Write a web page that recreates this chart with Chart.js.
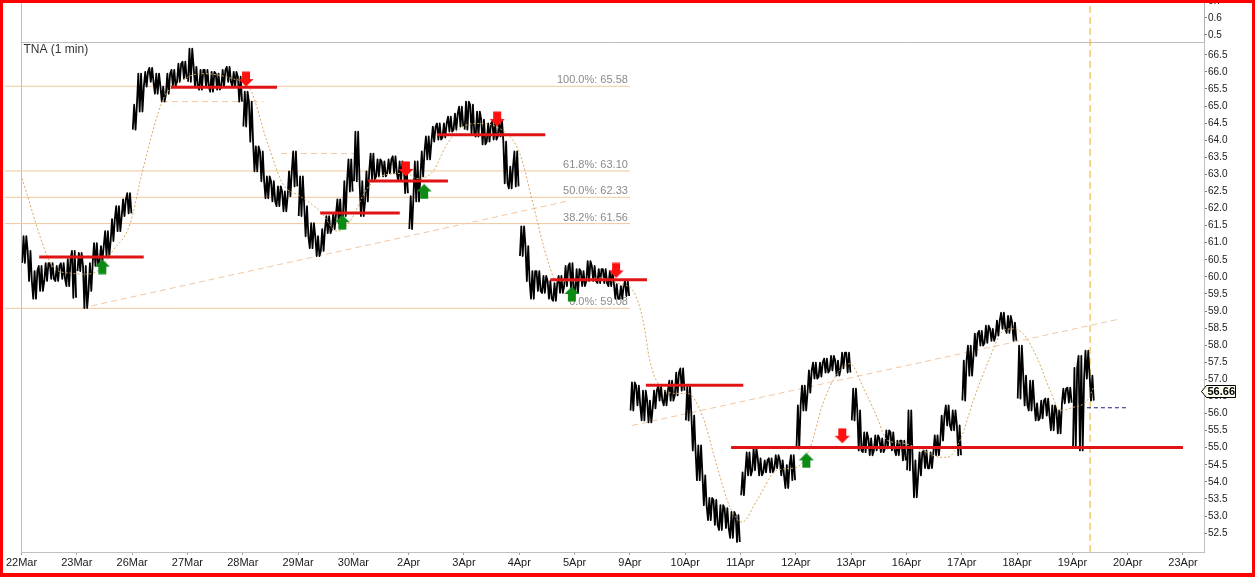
<!DOCTYPE html>
<html>
<head>
<meta charset="utf-8">
<script src="https://cdn.jsdelivr.net/npm/chart.js@4.4.1/dist/chart.umd.min.js"></script>
<style>
html, body { margin: 0; padding: 0; background: #fff; overflow: hidden; }
#wrap { position: relative; width: 1255px; height: 577px; overflow: hidden; }
#tnaChart { position: absolute; left: 0; top: -8px; width: 1255px; height: 585px; }
#frame { position: absolute; left: 0; top: 0; width: 1255px; height: 577px; box-sizing: border-box;
         border: 3px solid #ff0000; border-bottom-width: 4px; pointer-events: none; }
</style>
</head>
<body>
<div id="wrap">
  <canvas id="tnaChart" width="1255" height="585"></canvas>
  <div id="frame"></div>
</div>
<script>
// x axis is in trading days from 22Mar (one tick per session)
const dayLabels = ['22Mar', '23Mar', '26Mar', '27Mar', '28Mar', '29Mar', '30Mar', '2Apr', '3Apr', '4Apr', '5Apr',
    '9Apr', '10Apr', '11Apr', '12Apr', '13Apr', '16Apr', '17Apr', '18Apr', '19Apr', '20Apr', '23Apr'];

// 1 min price, summarised as high / low for every tenth of a session
const colWidth = 0.1;
const colsPerSession = 10;
const priceHigh = [
    61.19, 60.76, 60.17, 60.32, 60.40, 60.40, 60.32, 60.40, 60.52, 60.76,
    60.70, 60.32, 60.40, 60.99, 60.90, 61.34, 61.69, 62.07, 62.27, 62.45,
    65.04, 65.95, 66.00, 66.12, 65.95, 65.57, 65.95, 66.06, 66.24, 66.30,
    66.68, 66.15, 66.06, 66.06, 66.00, 65.95, 66.06, 66.15, 66.00, 65.86,
    65.42, 65.13, 63.82, 63.67, 62.94, 62.80, 62.65, 62.50, 63.09, 63.67,
    62.94, 62.07, 61.57, 61.19, 61.40, 61.78, 61.86, 62.27, 62.80, 63.44,
    64.25, 62.80, 63.09, 63.61, 63.44, 63.38, 63.44, 63.53, 63.38, 63.23,
    62.36, 63.38, 63.67, 64.11, 64.40, 64.49, 64.49, 64.69, 64.78, 64.98,
    65.13, 65.04, 64.84, 64.60, 64.49, 64.55, 64.60, 63.96, 63.23, 63.67,
    61.48, 60.90, 60.17, 60.17, 60.03, 59.88, 59.82, 60.03, 60.32, 60.40,
    60.23, 60.17, 60.46, 60.32, 60.23, 60.23, 60.17, 59.79, 59.73, 59.88,
    56.91, 56.82, 56.67, 56.38, 56.67, 56.82, 56.67, 56.96, 57.20, 57.32,
    56.82, 55.94, 55.07, 54.19, 53.53, 53.47, 53.32, 53.23, 53.12, 53.03,
    54.28, 54.86, 54.98, 54.69, 54.63, 54.69, 54.78, 54.63, 54.49, 54.78,
    56.24, 56.82, 57.26, 57.49, 57.49, 57.61, 57.69, 57.55, 57.78, 57.78,
    56.73, 56.09, 55.45, 55.27, 55.36, 55.27, 55.51, 55.45, 55.21, 55.21,
    56.09, 54.63, 54.86, 54.92, 54.86, 55.36, 55.94, 56.24, 56.09, 55.65,
    57.55, 57.99, 58.34, 58.42, 58.57, 58.48, 58.72, 58.95, 58.86, 58.66,
    57.99, 57.11, 56.96, 56.30, 56.38, 56.44, 56.24, 56.09, 56.73, 56.76,
    57.34, 57.69, 57.84, 57.11
];
const priceLow = [
    60.41, 59.88, 59.36, 59.59, 59.88, 59.94, 59.88, 59.94, 59.73, 59.39,
    60.17, 59.09, 59.59, 60.32, 60.46, 60.61, 61.05, 61.34, 61.78, 61.86,
    64.31, 64.84, 65.57, 65.71, 65.36, 65.13, 65.36, 65.57, 65.71, 65.80,
    65.71, 65.57, 65.48, 65.57, 65.42, 65.48, 65.57, 65.71, 65.57, 65.13,
    64.40, 63.96, 63.09, 62.80, 62.30, 62.21, 62.07, 61.92, 62.36, 62.65,
    61.78, 61.19, 60.84, 60.61, 60.76, 61.28, 61.40, 61.57, 61.78, 62.50,
    62.80, 61.78, 62.21, 62.86, 62.94, 62.94, 63.03, 63.03, 62.80, 62.45,
    61.40, 62.21, 62.94, 63.44, 63.96, 64.02, 64.08, 64.25, 64.31, 64.40,
    64.31, 64.19, 64.11, 63.88, 63.96, 64.02, 64.11, 62.74, 62.59, 62.65,
    60.61, 59.88, 59.36, 59.59, 59.53, 59.36, 59.30, 59.53, 59.73, 59.59,
    59.53, 59.73, 59.88, 59.88, 59.82, 59.82, 59.73, 59.36, 59.36, 59.44,
    56.09, 56.24, 55.80, 55.74, 56.15, 56.38, 56.24, 56.38, 56.53, 56.67,
    55.80, 54.92, 54.05, 53.32, 52.88, 52.74, 52.59, 52.65, 52.36, 52.24,
    53.61, 54.19, 54.34, 54.19, 54.28, 54.28, 54.40, 54.19, 53.82, 54.05,
    54.98, 56.09, 56.61, 57.02, 57.08, 57.20, 57.26, 57.11, 57.32, 57.20,
    55.80, 54.92, 54.87, 54.78, 54.92, 54.87, 54.98, 54.92, 54.78, 54.63,
    54.34, 53.55, 54.19, 54.40, 54.40, 54.78, 55.21, 55.65, 55.51, 54.78,
    56.38, 57.11, 57.69, 57.99, 58.07, 58.13, 58.28, 58.48, 58.36, 58.13,
    56.44, 56.24, 56.09, 55.80, 55.86, 55.94, 55.51, 55.42, 56.30, 56.32,
    55.01, 54.92, 57.02, 56.38
];
const lastPrice = 56.66;

// moving average (dotted)
const maDay = [0.01, 0.48, 0.61, 0.88, 1.18, 1.42, 1.65, 1.96, 2.20, 2.56, 2.87, 3.23, 3.82, 4.13, 4.44,
    4.73, 5.04, 5.40, 5.71, 5.94, 6.25, 6.61, 6.97, 7.15, 7.44, 7.69, 7.93, 8.23, 8.65, 9.01,
    9.25, 9.50, 9.68, 10.04, 10.46, 10.82, 11.06, 11.24, 11.36, 11.51, 11.85, 12.05, 12.32, 12.58, 12.81,
    13.03, 13.30, 13.66, 14.02, 14.26, 14.49, 14.75, 14.98, 15.22, 15.47, 15.65, 15.94, 16.30, 16.61, 16.74,
    16.97, 17.21, 17.51, 17.75, 17.93, 18.11, 18.36, 18.60, 18.78, 19.01, 19.27, 19.38];
const maValue = [62.88, 60.55, 60.23, 60.11, 60.08, 60.23, 60.76, 61.54, 63.18, 65.19, 65.71, 65.95, 65.80, 65.51, 63.96,
    62.71, 62.36, 61.92, 61.34, 61.63, 62.59, 63.00, 63.03, 62.88, 63.09, 63.88, 64.34, 64.49, 64.34, 63.61,
    62.13, 60.55, 59.88, 59.88, 59.97, 59.79, 59.59, 58.71, 57.55, 56.88, 56.59, 56.59, 55.89, 54.43, 53.26,
    52.82, 53.47, 54.34, 54.43, 55.01, 56.29, 57.17, 57.46, 56.76, 55.89, 55.22, 55.13, 54.92, 54.72, 54.72,
    55.22, 56.38, 57.64, 58.42, 58.48, 58.34, 57.64, 56.67, 56.09, 56.18, 56.38, 56.76];

// fibonacci retracement
const fibPercent = ['100.0%', '61.8%', '50.0%', '38.2%', '0.0%'];
const fibLevel = [65.58, 63.10, 62.33, 61.56, 59.08];
const fibRange = [-0.30, 11.0];

// support / resistance (red)
const srStart = [0.32, 2.70, 5.40, 6.27, 7.51, 9.56, 11.29, 12.83];
const srEnd = [2.21, 4.62, 6.84, 7.71, 9.47, 11.31, 13.05, 21.0];
const srLevel = [60.58, 65.55, 61.87, 62.81, 64.16, 59.92, 56.83, 55.01];

// trend lines and dashed guides
const trendFromDay = [1.09, 11.04, 2.54, 4.69];
const trendToDay = [9.85, 19.86, 4.37, 6.12];
const trendFromValue = [59.09, 55.65, 65.13, 63.61];
const trendToValue = [62.21, 58.77, 65.13, 63.61];

// signals
const sellDay = [4.06, 6.95, 8.60, 10.75, 14.84];
const sellPrice = [65.79, 63.16, 64.62, 60.19, 55.35];
const buyDay = [1.46, 5.80, 7.28, 9.95, 14.19];
const buyPrice = [60.30, 61.60, 62.50, 59.50, 54.63];

const cursorDay = 19.32;
const refLine = [19.01, 19.99, 56.17];

const FONT = '"Liberation Sans", Arial, sans-serif';
Chart.defaults.font.family = FONT;
Chart.defaults.elements.point.radius = 0;

function arrowImage(color, up) {
    const c = document.createElement('canvas');
    c.width = 16;
    c.height = 16;
    const g = c.getContext('2d');
    if (!up) {
        g.translate(0, 16);
        g.scale(1, -1);
    }
    g.beginPath();
    g.moveTo(8, 0.5);
    g.lineTo(15.5, 8);
    g.lineTo(12, 8);
    g.lineTo(12, 15.5);
    g.lineTo(4, 15.5);
    g.lineTo(4, 8);
    g.lineTo(0.5, 8);
    g.closePath();
    g.fillStyle = color;
    g.fill();
    return c;
}

// several strokes between low and high per column so the 1 min noise
// reads as a dense band; a gap separates each session
const strokeOffsets = [0.012, 0.037, 0.062, 0.087];
const pricePoints = [];
priceHigh.forEach((hi, i) => {
    const lo = priceLow[i];
    const t = i * colWidth;
    if (i > 0 && i % colsPerSession === 0) {
        pricePoints.push({x: t - 0.004, y: null});
    }
    strokeOffsets.forEach((o, k) => {
        const up = (i + k) % 2 === 1;
        pricePoints.push({x: t + o, y: up ? hi : lo});
    });
});

const datasets = [];

datasets.push({
    type: 'scatter', order: 0, pointRadius: 8, pointStyle: arrowImage('#ff1010', false),
    data: sellDay.map((d, i) => ({x: d, y: sellPrice[i]}))
});
datasets.push({
    type: 'scatter', order: 0, pointRadius: 8, pointStyle: arrowImage('#0c8a14', true),
    data: buyDay.map((d, i) => ({x: d, y: buyPrice[i]}))
});

srLevel.forEach((v, i) => {
    datasets.push({
        order: 1, borderColor: '#e01414', borderWidth: 3,
        data: [{x: srStart[i], y: v}, {x: srEnd[i], y: v}]
    });
});

datasets.push({
    order: 2, borderColor: '#d6a95e', borderWidth: 1, borderDash: [2, 2],
    cubicInterpolationMode: 'monotone',
    data: maDay.map((d, i) => ({x: d, y: maValue[i]}))
});

datasets.push({
    order: 3, borderColor: '#000000', borderWidth: 1.8, borderJoinStyle: 'round', spanGaps: false,
    data: pricePoints
});

datasets.push({
    order: 4, borderColor: '#1c1c80', borderWidth: 1, borderDash: [4, 3], clip: false,
    data: [{x: refLine[0], y: refLine[2]}, {x: refLine[1], y: refLine[2]}]
});
datasets.push({
    order: 4, borderColor: '#e8b020', borderWidth: 1, borderDash: [7, 4], clip: false,
    data: [{x: cursorDay, y: 51.95}, {x: cursorDay, y: 68.1}]
});

trendFromDay.forEach((d, i) => {
    datasets.push({
        order: 5, borderColor: '#f3c6a0', borderWidth: 1, borderDash: [6, 4],
        data: [{x: d, y: trendFromValue[i]}, {x: trendToDay[i], y: trendToValue[i]}]
    });
});

fibLevel.forEach(v => {
    datasets.push({
        order: 6, borderColor: '#efc89c', borderWidth: 1, clip: false,
        data: [{x: fibRange[0], y: v}, {x: fibRange[1], y: v}]
    });
});

// every series belongs to the price pane
datasets.forEach(ds => { ds.xAxisID = 'x'; ds.yAxisID = 'y'; });

const chartDecor = {
    id: 'chartDecor',
    beforeDatasetsDraw(chart) {
        const {ctx, chartArea, scales: {x, y}} = chart;
        ctx.save();
        // panel separator
        ctx.strokeStyle = '#c0c0c0';
        ctx.lineWidth = 1;
        ctx.beginPath();
        ctx.moveTo(chartArea.left, Math.round(y.top) + 0.5);
        ctx.lineTo(chartArea.right, Math.round(y.top) + 0.5);
        ctx.stroke();

        ctx.font = '12px ' + FONT;
        ctx.fillStyle = '#333';
        ctx.textAlign = 'left';
        ctx.textBaseline = 'middle';
        ctx.fillText('TNA (1 min)', chartArea.left + 2, y.top + 7);

        ctx.font = '11px ' + FONT;
        ctx.fillStyle = '#8a8a8a';
        ctx.textAlign = 'right';
        fibLevel.forEach((v, i) => {
            ctx.fillText(fibPercent[i] + ': ' + v.toFixed(2), x.getPixelForValue(fibRange[1]) - 2, y.getPixelForValue(v) - 6);
        });
        ctx.restore();
    },
    afterDraw(chart) {
        const {ctx, scales: {y}} = chart;
        const cy = Math.round(y.getPixelForValue(lastPrice)) + 0.5;
        const left = y.left - 2.5;
        ctx.save();
        ctx.beginPath();
        ctx.moveTo(left, cy);
        ctx.lineTo(left + 5, cy - 6);
        ctx.lineTo(left + 34, cy - 6);
        ctx.lineTo(left + 34, cy + 6);
        ctx.lineTo(left + 5, cy + 6);
        ctx.closePath();
        ctx.fillStyle = '#fffff2';
        ctx.fill();
        ctx.strokeStyle = '#000';
        ctx.lineWidth = 1;
        ctx.stroke();
        ctx.font = 'bold 11px ' + FONT;
        ctx.fillStyle = '#000';
        ctx.textAlign = 'left';
        ctx.textBaseline = 'middle';
        ctx.fillText(lastPrice.toFixed(2), left + 6, cy + 0.5);
        ctx.restore();
    }
};

const tickFont = {size: 10, family: FONT};

const chartConfig = {
    type: 'line',
    data: {datasets: datasets},
    options: {
        responsive: false,
        animation: false,
        events: [],
        layout: {padding: {left: 21.5, top: 7, right: 0, bottom: 0}},
        plugins: {legend: {display: false}, tooltip: {enabled: false}},
        scales: {
            x: {
                type: 'linear', min: 0, max: 21.38,
                border: {color: '#c0c0c0'},
                grid: {
                    color: c => (c.tick && c.tick.value === 0) ? '#c0c0c0' : 'rgba(0,0,0,0)',
                    tickColor: '#a0a0a0', tickLength: 3
                },
                ticks: {
                    stepSize: 1, autoSkip: false, maxRotation: 0, includeBounds: false, padding: 1,
                    color: '#1a1a1a', font: {size: 11, family: FONT},
                    callback: v => dayLabels[v] ?? ''
                },
                afterFit: s => { s.height = 25; }
            },
            y2: {
                type: 'linear', position: 'right', stack: 'panes', stackWeight: 41.5,
                min: 0.456, max: 0.7,
                border: {color: '#b0b0b0', dash: [1, 2]},
                grid: {drawOnChartArea: false, tickLength: 3, tickColor: '#808080'},
                ticks: {stepSize: 0.1, autoSkip: false, includeBounds: false, padding: 1, color: '#1a1a1a', font: tickFont,
                    callback: v => v.toFixed(1)},
                afterFit: s => { s.width = 51; }
            },
            y: {
                type: 'linear', position: 'right', stack: 'panes', stackWeight: 511.5,
                min: 51.948, max: 66.865,
                border: {color: '#c0c0c0'},
                grid: {drawOnChartArea: false, tickLength: 3, tickColor: '#808080'},
                ticks: {stepSize: 0.5, autoSkip: false, includeBounds: false, padding: 1, color: '#1a1a1a', font: tickFont,
                    callback: v => v.toFixed(1)},
                afterBuildTicks: s => { s.ticks = s.ticks.filter(t => t.value >= 52.4); },
                afterFit: s => { s.width = 51; }
            }
        }
    },
    plugins: [chartDecor]
};

const ctx = document.getElementById('tnaChart').getContext('2d');
const mainChart = new Chart(ctx, chartConfig);
</script>
</body>
</html>
